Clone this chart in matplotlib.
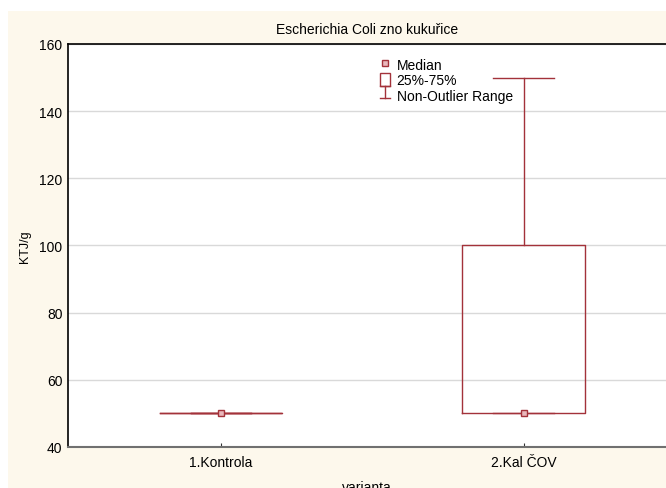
import numpy as np
import matplotlib
matplotlib.use("Agg")
import matplotlib.pyplot as plt
import matplotlib.patches as mpatches
from matplotlib.lines import Line2D
from matplotlib.legend_handler import HandlerBase

plt.rcParams['font.family'] = ['Liberation Sans', 'DejaVu Sans']

# ---- data ----
groups = ["1.Kontrola", "2.Kal ČOV"]
median = [50, 50]
q1 = [50, 50]
q3 = [50, 100]
whis_lo = [50, 50]
whis_hi = [50, 150]

red = "#A3323A"
light = "#E9B8BC"

fig = plt.figure(figsize=(6.66, 4.89), dpi=100)
fig.patch.set_facecolor("white")
# beige panel behind the chart
fig.patches.append(mpatches.Rectangle((8 / 666, 0), 1, (489 - 12) / 489,
                                      transform=fig.transFigure,
                                      facecolor="#FDF8EC", edgecolor="none",
                                      zorder=-10))

ax = fig.add_axes([68 / 666, (489 - 448) / 489, (666 - 68) / 666, (448 - 45) / 489])
ax.set_facecolor("white")

stats = []
for i, g in enumerate(groups):
    stats.append(dict(label=g, med=median[i], q1=q1[i], q3=q3[i],
                      whislo=whis_lo[i], whishi=whis_hi[i], fliers=[]))

pos = np.arange(1, len(groups) + 1)
ax.bxp(stats, positions=pos, widths=0.405, capwidths=0.2, showfliers=False,
       boxprops=dict(color=red, lw=1.0),
       whiskerprops=dict(color=red, lw=1.0),
       capprops=dict(color=red, lw=1.0),
       medianprops=dict(color=red, lw=0), zorder=3)
ax.plot(pos, median, ls="none", marker="s", ms=4.5, mfc=light, mec=red,
        mew=1.0, zorder=4)

ax.set_xlim(0.495, 2.47)
ax.set_ylim(40, 160)
ax.set_yticks(np.arange(40, 161, 20))
ax.set_xticks(pos)
ax.set_xticklabels(groups)
ax.yaxis.grid(True, color="#D9D9D9", lw=1.0)
ax.set_axisbelow(True)
ax.tick_params(labelsize=10, length=3, width=0.8, color="#333333")
ax.tick_params(axis="x", direction="in", length=3, pad=6)
ax.tick_params(axis="y", direction="in", length=0, pad=4)
for s in ["left", "top"]:
    ax.spines[s].set_color("black")
    ax.spines[s].set_linewidth(1.2)
ax.spines["bottom"].set_color("#707070")
ax.spines["bottom"].set_linewidth(1.5)
ax.spines["right"].set_visible(False)

ax.set_title("Escherichia Coli zno kukuřice", fontsize=10, pad=8)
ax.set_ylabel("KTJ/g", fontsize=9, labelpad=6)
ax.set_xlabel("varianta", fontsize=10, labelpad=8)


class HandlerRange(HandlerBase):
    def create_artists(self, legend, orig, xd, yd, w, h, fs, trans):
        cx = xd + w / 2
        lines = [
            Line2D([cx, cx], [yd, yd + h], color=red, lw=1.0),
            Line2D([cx - 3.5, cx + 3.5], [yd, yd], color=red, lw=1.0),
            Line2D([cx - 3.5, cx + 3.5], [yd + h, yd + h], color=red, lw=1.0),
        ]
        for ln in lines:
            ln.set_transform(trans)
        return lines


h_med = Line2D([], [], ls="none", marker="s", ms=4, mfc=light, mec=red)
h_box = mpatches.Rectangle((0, 0), 1, 1, fill=False, edgecolor=red, lw=1.0)
h_rng = Line2D([], [])
ax.legend([h_med, h_box, h_rng], ["Median", "25%-75%", "Non-Outlier Range"],
          handler_map={h_rng: HandlerRange()},
          loc="upper left", bbox_to_anchor=((366 - 68) / 598, 1.0),
          frameon=False, fontsize=10, handlelength=0.75, handleheight=1.0,
          handletextpad=0.45, labelspacing=0.1, borderpad=0.5)

fig.savefig("out.png", dpi=100)
